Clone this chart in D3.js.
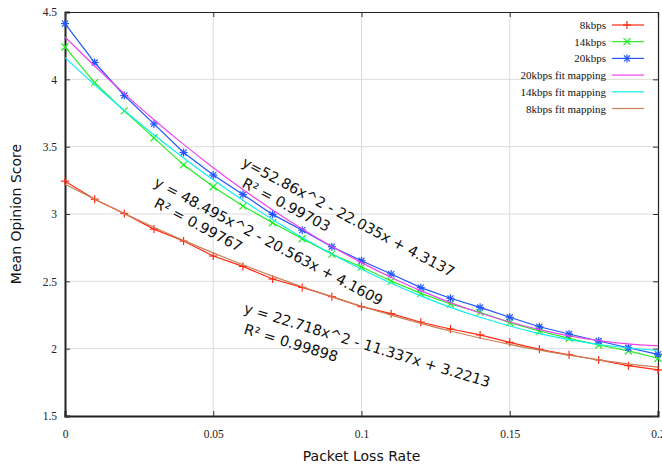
<!DOCTYPE html>
<html><head><meta charset="utf-8">
<script src="https://cdn.jsdelivr.net/npm/d3@7"></script>
<style>body{margin:0;background:#fff}svg{display:block}</style>
</head><body>
<svg id="chart" width="662" height="465"></svg>
<script>
const xs = [0,0.01,0.02,0.03,0.04,0.05,0.06,0.07,0.08,0.09,0.1,0.11,0.12,0.13,0.14,0.15,0.16,0.17,0.18,0.19,0.2];
const kbps8 = [3.244,3.11,3.004,2.888,2.799,2.688,2.611,2.517,2.455,2.386,2.312,2.26,2.196,2.146,2.102,2.047,1.995,1.955,1.916,1.874,1.842];
const kbps14 = [4.24,3.976,3.766,3.565,3.365,3.202,3.059,2.935,2.816,2.702,2.606,2.502,2.411,2.332,2.27,2.193,2.131,2.077,2.027,1.983,1.929];
const kbps20 = [4.414,4.125,3.88,3.669,3.457,3.289,3.145,2.997,2.88,2.757,2.653,2.554,2.453,2.374,2.307,2.233,2.163,2.109,2.057,2.007,1.958];
const fit20 = [4.314,4.099,3.894,3.700,3.517,3.344,3.182,3.030,2.889,2.759,2.639,2.529,2.431,2.342,2.265,2.198,2.141,2.095,2.060,2.035,2.021];
const fit14 = [4.161,3.960,3.769,3.588,3.416,3.254,3.102,2.959,2.826,2.703,2.590,2.486,2.392,2.307,2.233,2.168,2.112,2.067,2.031,2.005,1.988];
const fit8 = [3.221,3.110,3.004,2.902,2.804,2.711,2.623,2.539,2.460,2.385,2.315,2.249,2.188,2.131,2.079,2.032,1.989,1.951,1.917,1.887,1.863];
const xTicks = [0,0.05,0.1,0.15,0.2];
const yTicks = [1.5,2,2.5,3,3.5,4,4.5];
const legendLabels = ["8kbps","14kbps","20kbps","20kbps fit mapping","14kbps fit mapping","8kbps fit mapping"];
const annotations = [
  ["y=52.86x^2 - 22.035x + 4.3137","R² = 0.99703"],
  ["y = 48.495x^2 - 20.563x + 4.1609","R² = 0.99767"],
  ["y = 22.718x^2 - 11.337x + 3.2213","R² = 0.99898"]
];

const W=662,H=465, m={l:65,r:4,t:12,b:49};
const svg=d3.select("#chart");
const x=d3.scaleLinear().domain([0,0.2]).range([m.l,W-m.r]);
const y=d3.scaleLinear().domain([1.5,4.5]).range([H-m.b,m.t]);

// grid
const grid=svg.append("g").attr("stroke","#dcdcdc").attr("stroke-width",1);
xTicks.slice(1,-1).forEach(t=>grid.append("line").attr("x1",x(t)).attr("x2",x(t)).attr("y1",y(1.5)).attr("y2",y(4.5)));
yTicks.slice(1,-1).forEach(t=>grid.append("line").attr("x1",x(0)).attr("x2",x(0.2)).attr("y1",y(t)).attr("y2",y(t)));

// axes with inward ticks
const fmt=d=>String(d);
const axB=svg.append("g").attr("transform",`translate(0,${y(1.5)})`).call(d3.axisBottom(x).tickValues(xTicks).tickFormat(fmt).tickSize(-5).tickPadding(14));
const axL=svg.append("g").attr("transform",`translate(${x(0)},0)`).call(d3.axisLeft(y).tickValues(yTicks).tickFormat(fmt).tickSize(-5).tickPadding(8));
const axT=svg.append("g").attr("transform",`translate(0,${y(4.5)})`).call(d3.axisTop(x).tickValues(xTicks).tickFormat("").tickSize(-5));
const axR=svg.append("g").attr("transform",`translate(${x(0.2)},0)`).call(d3.axisRight(y).tickValues(yTicks).tickFormat("").tickSize(-5));
[axB,axL].forEach(a=>{a.select(".domain").attr("stroke","#222").attr("stroke-width",2);a.selectAll(".tick line").attr("stroke","#333");a.selectAll("text").attr("font-family","Liberation Serif").attr("font-size","11.5px").attr("fill","#222");});
[axT,axR].forEach(a=>{a.select(".domain").attr("stroke","#222").attr("stroke-width",1.2);a.selectAll(".tick line").attr("stroke","#333");});

// axis titles
svg.append("text").attr("x",(x(0)+x(0.2))/2).attr("y",461).attr("text-anchor","middle").attr("font-family","DejaVu Sans").attr("font-size","14px").attr("fill","#111").text("Packet Loss Rate");
svg.append("text").attr("transform",`translate(21,${(y(1.5)+y(4.5))/2}) rotate(-90)`).attr("text-anchor","middle").attr("font-family","DejaVu Sans").attr("font-size","14px").attr("fill","#111").text("Mean Opinion Score");

const colors={k8:"#ff2a10",k14:"#22ee22",k20:"#2255ff",f20:"#ee44ee",f14:"#11eeee",f8:"#c8805a"};
const line=d3.line().x((d,i)=>x(xs[i])).y(d=>y(d));

function marker(g,type,cx,cy,color){
  const s=4;
  const p=[];
  if(type==="plus"||type==="star"){p.push([cx-s,cy,cx+s,cy],[cx,cy-s,cx,cy+s]);}
  if(type==="x"||type==="star"){const t=type==="star"?3:3.5;p.push([cx-t,cy-t,cx+t,cy+t],[cx-t,cy+t,cx+t,cy-t]);}
  p.forEach(q=>g.append("line").attr("x1",q[0]).attr("y1",q[1]).attr("x2",q[2]).attr("y2",q[3]).attr("stroke",color).attr("stroke-width",1.2));
}

const series=[
  {v:kbps8,c:colors.k8,m:"plus"},
  {v:kbps14,c:colors.k14,m:"x"},
  {v:kbps20,c:colors.k20,m:"star"},
  {v:fit20,c:colors.f20},
  {v:fit14,c:colors.f14},
  {v:fit8,c:colors.f8}
];
const plot=svg.append("g");
series.forEach(s=>{
  plot.append("path").datum(s.v).attr("d",line.curve(s.m?d3.curveLinear:d3.curveMonotoneX)).attr("fill","none").attr("stroke",s.c).attr("stroke-width",1.2);
  if(s.m){const g=plot.append("g");s.v.forEach((d,i)=>marker(g,s.m,x(xs[i]),y(d),s.c));}
});

// legend
const lg=svg.append("g");
legendLabels.forEach((lab,i)=>{
  const ly=25+i*16.7;
  lg.append("text").attr("x",606).attr("y",ly+4).attr("text-anchor","end").attr("font-family","Liberation Serif").attr("font-size","11px").attr("fill","#111").text(lab);
  const s=series[i];
  lg.append("line").attr("x1",612).attr("x2",644).attr("y1",ly).attr("y2",ly).attr("stroke",s.c).attr("stroke-width",1.2);
  if(s.m){marker(lg,s.m,627,ly,s.c);}
});

// annotations: each line rotated about its own start, second line 21px lower
const annPos=[[241,165.5,28],[153,185.5,28],[243,312.5,17]];
annotations.forEach((a,i)=>{
  const [ax,ay,ang]=annPos[i];
  a.forEach((txt,j)=>{
    svg.append("text").attr("transform",`translate(${ax},${ay+j*21}) rotate(${ang})`)
      .attr("font-family","DejaVu Sans").attr("font-size","14.5px").attr("fill","#111").text(txt);
  });
});
</script>
</body></html>
